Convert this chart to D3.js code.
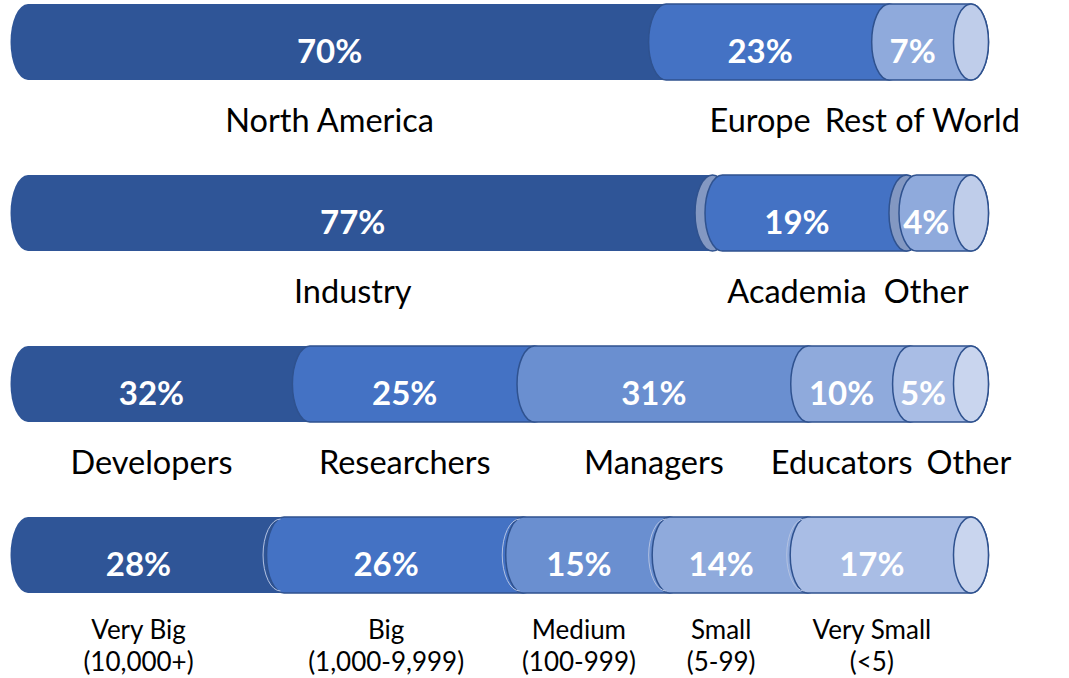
<!DOCTYPE html>
<html>
<head>
<meta charset="utf-8">
<script src="https://cdn.jsdelivr.net/npm/d3@7"></script>
<style>
  body { margin: 0; background: #fff; }
  svg { display: block; }
</style>
</head>
<body>
<div id="chart"></div>
<script>
// data, one small array per stacked bar
const regionLabels = ['North America', 'Europe', 'Rest of World'];
const regionValues = [70, 23, 7];

const sectorLabels = ['Industry', 'Academia', 'Other'];
const sectorValues = [77, 19, 4];

const roleLabels = ['Developers', 'Researchers', 'Managers', 'Educators', 'Other'];
const roleValues = [32, 25, 31, 10, 5];

const sizeLabels = [['Very Big', '(10,000+)'], ['Big', '(1,000-9,999)'], ['Medium', '(100-999)'], ['Small', '(5-99)'], ['Very Small', '(<5)']];
const sizeValues = [28, 26, 15, 14, 17];

const bars = [
  { labels: regionLabels, values: regionValues },
  { labels: sectorLabels, values: sectorValues },
  { labels: roleLabels, values: roleValues },
  { labels: sizeLabels, values: sizeValues },
];

// styles
const palette3 = ['#2f5597', '#4472c4', '#8faadc'];
const palette5 = ['#2f5597', '#4472c4', '#6a8fd0', '#8faadc', '#a9bde5'];
const capColor3 = '#bfcdea';
const capColor5 = '#c9d5ee';
const faceColor = '#8398c2';
const edgeColor = '#2f528f';
const faceGaps = [0, 10, 0, 0];       // bar 2 shows the end face between segments
const doubleEdge = [false, false, false, true];

const width = 1069, height = 678;
const x0 = 28, x1 = 971;     // centre of left end / right cap
const rx = 17.5;             // ellipse half-width of the cylinder ends
const pad = 20;              // extra width each segment gets for its cap
const barH = 76;
const rightLimit = 1055;
const labelGap = 14;

const svg = d3.select('#chart').append('svg')
  .attr('width', width)
  .attr('height', height);

const y = d3.scalePoint().domain(d3.range(bars.length)).range([42, 555]);

function segPath(sx, ex, cy, ry) {
  return `M${sx},${cy - ry} L${ex},${cy - ry} A${rx},${ry} 0 0 1 ${ex},${cy + ry} ` +
         `L${sx},${cy + ry} A${rx},${ry} 0 0 1 ${sx},${cy - ry} Z`;
}

function leftArc(sx, cy, ry) {
  return `M${sx},${cy + ry} A${rx},${ry} 0 0 1 ${sx},${cy - ry}`;
}

bars.forEach((bar, b) => {
  const n = bar.values.length;
  const colors = n === 3 ? palette3 : palette5;
  const capColor = n === 3 ? capColor3 : capColor5;
  const gap = faceGaps[b];
  const cy = y(b);
  const ry = barH / 2;
  const total = d3.sum(bar.values);
  const x = d3.scaleLinear().domain([0, total]).range([x0, x1 - n * pad - (n - 1) * gap]);
  const cum = [0, ...d3.cumsum(bar.values)];

  const segs = bar.values.map((v, i) => {
    const sx = x(cum[i]) + i * (pad + gap);
    const ex = x(cum[i + 1]) + (i + 1) * pad + i * gap;
    return { v, i, sx, ex, label: bar.labels[i], mid: (sx + ex) / 2 - rx };
  });

  const g = svg.append('g');

  segs.forEach(d => {
    g.append('path')
      .attr('d', segPath(d.sx, d.ex, cy, ry))
      .attr('fill', colors[d.i])
      .attr('stroke', d.i === 0 ? 'none' : edgeColor)
      .attr('stroke-width', 1.5);
    if (doubleEdge[b] && d.i > 0) {
      g.append('path')
        .attr('d', leftArc(d.sx - 3.5, cy, ry - 2))
        .attr('fill', 'none')
        .attr('stroke', '#b3c2e2')
        .attr('stroke-width', 1);
    }
    if (gap > 0 && d.i < n - 1) {
      g.append('ellipse')
        .attr('cx', d.ex)
        .attr('cy', cy)
        .attr('rx', rx)
        .attr('ry', ry)
        .attr('fill', faceColor)
        .attr('stroke', edgeColor)
        .attr('stroke-width', 1.5);
    }
  });

  const last = segs[n - 1];
  g.append('ellipse')
    .attr('cx', last.ex)
    .attr('cy', cy)
    .attr('rx', rx)
    .attr('ry', ry)
    .attr('fill', capColor)
    .attr('stroke', edgeColor)
    .attr('stroke-width', 1.5);

  g.selectAll('text.pct')
    .data(segs)
    .enter()
    .append('text')
    .attr('class', 'pct')
    .attr('x', d => d.mid)
    .attr('y', cy + 9)
    .attr('dy', '0.35em')
    .attr('text-anchor', 'middle')
    .style('font-family', 'Lato, sans-serif')
    .style('font-weight', 'bold')
    .style('font-size', '33px')
    .style('fill', '#fff')
    .text(d => d.v + '%');

  // category labels under the bar, nudged apart when they collide
  const multi = Array.isArray(bar.labels[0]);
  const fs = multi ? 26 : 32.5;
  const cats = g.selectAll('text.cat')
    .data(segs)
    .enter()
    .append('text')
    .attr('class', 'cat')
    .attr('text-anchor', 'middle')
    .style('font-family', 'Lato, sans-serif')
    .style('font-size', fs + 'px')
    .style('fill', '#000');

  if (multi) {
    cats.attr('y', cy + 75)
      .selectAll('tspan')
      .data(d => d.label.map(t => ({ t, mid: d.mid })))
      .enter()
      .append('tspan')
      .attr('x', d => d.mid)
      .attr('dy', (d, k) => k === 0 ? '0.35em' : '1.23em')
      .text(d => d.t);
  } else {
    cats.attr('x', d => d.mid).attr('y', cy + 79).attr('dy', '0.35em').text(d => d.label);
  }

  const widths = [];
  cats.each(function () { widths.push(this.getBBox().width); });
  const centers = segs.map(d => d.mid);
  for (let i = 1; i < n; i++) {
    const minC = centers[i - 1] + widths[i - 1] / 2 + labelGap + widths[i] / 2;
    if (centers[i] < minC) centers[i] = minC;
  }
  for (let i = n - 1; i >= 0; i--) {
    const maxC = (i === n - 1 ? rightLimit : centers[i + 1] - widths[i + 1] / 2 - labelGap) - widths[i] / 2;
    if (centers[i] > maxC) centers[i] = maxC;
  }
  cats.each(function (d, i) {
    const t = d3.select(this);
    if (multi) t.selectAll('tspan').attr('x', centers[i]);
    else t.attr('x', centers[i]);
  });
});
</script>
</body>
</html>
